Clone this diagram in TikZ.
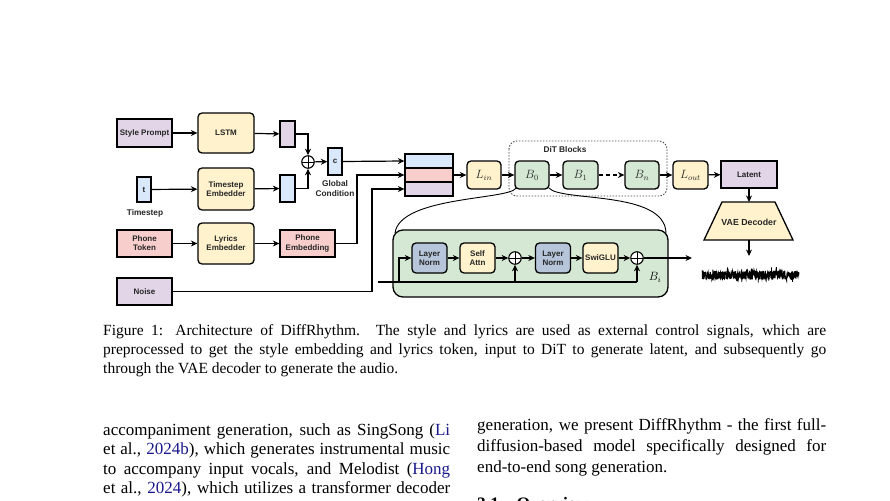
\documentclass[tikz,border=0pt]{standalone}
\usepackage{fontspec}
\setmainfont{Liberation Serif}
\setsansfont{Liberation Sans}
\usepackage{amsmath}
\usetikzlibrary{arrows.meta}

\definecolor{promptpurple}{HTML}{E1D5E7}
\definecolor{embedyellow}{HTML}{FFF2CC}
\definecolor{timeblue}{HTML}{DAE8FC}
\definecolor{lyricpink}{HTML}{F8CECC}
\definecolor{blockgreen}{HTML}{D5E8D4}
\definecolor{normblue}{HTML}{B6C5D9}
\definecolor{citeblue}{rgb}{0.1,0.1,0.55}

\begin{document}
\begin{tikzpicture}[x=1pt,y=-1pt]

	\tikzset{
		box lines/.style={draw, line width=1.3pt, inner sep=0pt, align=center, text=black!85,
			font=\sffamily\bfseries\fontsize{8}{9.2}\selectfont},
		plain box/.style={box lines},
		round box/.style={box lines, rounded corners=4pt},
		math box/.style={box lines, rounded corners=4pt, font=\fontsize{11.5}{13}\selectfont},
		flow lines/.style={line width=1.2pt, -{Stealth[length=6.5pt,width=6pt]}},
		link lines/.style={line width=1.2pt},
		sum node/.style={draw, circle, line width=1.1pt, minimum size=12.5pt, inner sep=0pt, fill=white,
			path picture={\draw[line width=1pt] (path picture bounding box.north) -- (path picture bounding box.south)
				(path picture bounding box.west) -- (path picture bounding box.east);}},
		side label/.style={font=\sffamily\bfseries\fontsize{8.3}{10}\selectfont, align=center, text=black!85},
		caption text/.style={anchor=base west, inner sep=0pt, font=\fontsize{15.5}{19}\selectfont},
		body text/.style={anchor=base west, inner sep=0pt, font=\fontsize{17}{20}\selectfont}
	}

	\fill[white] (0,0) rectangle (890,500);
	\useasboundingbox (0,0) rectangle (890,500);

	% conditions
	\node[plain box, fill=promptpurple, minimum width=55pt, minimum height=28pt] (prompt) at (144.5,133) {Style Prompt};
	\node[round box, fill=embedyellow, minimum width=56pt, minimum height=40pt] (lstm) at (226,133) {LSTM};
	\node[plain box, fill=promptpurple, minimum width=15pt, minimum height=26pt] (styleemb) at (287.5,134) {};

	\node[plain box, fill=timeblue, minimum width=14pt, minimum height=25pt] (t) at (144,189.5) {t};
	\node[side label, anchor=north] (tlabel) at (145,206) {Timestep};
	\node[round box, fill=embedyellow, minimum width=56pt, minimum height=42pt] (tembedder) at (226,189) {Timestep\\Embedder};
	\node[plain box, fill=timeblue, minimum width=15pt, minimum height=27pt] (timeemb) at (287.5,188.5) {};

	\node[sum node] (condsum) at (308,162) {};
	\node[plain box, fill=timeblue, minimum width=14pt, minimum height=27pt] (c) at (335,161.5) {c};
	\node[side label, anchor=north] (clabel) at (335,177) {Global\\Condition};

	\node[plain box, fill=lyricpink, minimum width=55pt, minimum height=27pt] (phone) at (144.5,243.5) {Phone\\Token};
	\node[round box, fill=embedyellow, minimum width=56pt, minimum height=41pt] (lembedder) at (226,243.5) {Lyrics\\Embedder};
	\node[plain box, fill=lyricpink, minimum width=55pt, minimum height=27pt] (phoneemb) at (307.5,243.5) {Phone\\Embedding};

	\node[plain box, fill=promptpurple, minimum width=55pt, minimum height=27pt] (noise) at (144.5,291.5) {Noise};

	\draw[flow lines] (prompt) -- (lstm);
	\draw[flow lines] (lstm) -- (styleemb);
	\draw[flow lines] (t) -- (tembedder);
	\draw[flow lines] (tembedder) -- (timeemb);
	\draw[flow lines] (phone) -- (lembedder);
	\draw[flow lines] (lembedder) -- (phoneemb);
	\draw[flow lines] (styleemb.east) -| (condsum.north);
	\draw[flow lines] (timeemb.east) -| (condsum.south);
	\draw[flow lines] (condsum) -- (c);

	% concatenated input
	\node[plain box, fill=timeblue, minimum width=48pt, minimum height=14pt] (row1) at (429,161) {};
	\node[plain box, fill=lyricpink, minimum width=48pt, minimum height=14pt] (row2) at (429,175) {};
	\node[plain box, fill=promptpurple, minimum width=48pt, minimum height=14pt] (row3) at (429,189) {};

	\draw[flow lines] (c.east) -- (row1.west);
	\draw[flow lines] (phoneemb.east) -- (357,243.5) |- (row2.west);
	\draw[flow lines] (noise.east) -- (372,291.5) |- (row3.west);

	% DiT
	\draw[line width=0.9pt, black!70, dash pattern=on 1.5pt off 1.5pt, rounded corners=8pt] (509,141) rectangle (667,196);
	\node[side label] (ditlabel) at (565,150) {DiT Blocks};

	\node[math box, fill=embedyellow, minimum width=34pt, minimum height=28pt] (lin) at (484,175) {$L_{in}$};
	\node[math box, fill=blockgreen, minimum width=34pt, minimum height=28pt] (b0) at (532,175) {$B_0$};
	\node[math box, fill=blockgreen, minimum width=35pt, minimum height=28pt] (b1) at (580.5,175) {$B_1$};
	\node[math box, fill=blockgreen, minimum width=34pt, minimum height=28pt] (bn) at (642,175) {$B_n$};
	\node[math box, fill=embedyellow, minimum width=35pt, minimum height=28pt] (lout) at (690.5,175) {$L_{out}$};
	\node[plain box, fill=promptpurple, minimum width=56pt, minimum height=27pt] (latent) at (749,174.5) {Latent};

	\draw[flow lines] (row2.east) -- (lin);
	\draw[flow lines] (lin) -- (b0);
	\draw[flow lines] (b0) -- (b1);
	\draw[flow lines, dash pattern=on 4pt off 3pt] (b1) -- (bn);
	\draw[flow lines] (bn) -- (lout);
	\draw[flow lines] (lout) -- (latent);

	% decoder
	\draw[line width=1.3pt, fill=embedyellow] (722,202) -- (775,202) -- (793,240) -- (704,240) -- cycle;
	\node[side label, font=\sffamily\bfseries\fontsize{8.8}{10}\selectfont] (vae) at (749,222) {VAE Decoder};
	\coordinate (vaetop) at (749,202);
	\coordinate (vaebottom) at (749,240);
	\coordinate (audio) at (749,256);
	\draw[flow lines] (latent) -- (vaetop);
	\draw[flow lines] (vaebottom) -- (audio);

	\pgfmathsetseed{17}
	\draw[line width=0.8pt] plot[domain=702:799, samples=520] (\x, {275 + (4.5 + 3.5*(rnd>0.92))*rand});

	% inside one block
	\draw[line width=0.9pt] (516,188) .. controls (510,200) and (400,196) .. (395,233);
	\draw[line width=0.9pt] (549,188) .. controls (560,202) and (665,190) .. (666,233);
	\draw[line width=1.3pt, fill=blockgreen, rounded corners=10pt] (393,230) rectangle (668,297);
	\node[font=\fontsize{11.5}{13}\selectfont] (bilabel) at (655,277) {$B_i$};

	\node[round box, fill=normblue, minimum width=35pt, minimum height=30pt] (norm1) at (429.5,258) {Layer\\Norm};
	\node[round box, fill=embedyellow, minimum width=35pt, minimum height=30pt] (attn) at (477.5,258) {Self\\Attn};
	\node[sum node] (sum1) at (515,258) {};
	\node[round box, fill=normblue, minimum width=35pt, minimum height=30pt] (norm2) at (553,258) {Layer\\Norm};
	\node[round box, fill=embedyellow, minimum width=35pt, minimum height=30pt] (swiglu) at (600.5,258) {SwiGLU};
	\node[sum node] (sum2) at (637,258) {};
	\coordinate (blockin) at (378,282);
	\coordinate (branch) at (399,282);
	\coordinate (blockout) at (692,258);

	\draw[link lines] (blockin) -- (sum2.south |- blockin);
	\draw[flow lines] (branch) |- (norm1.west);
	\draw[flow lines] (sum1.south |- blockin) -- (sum1.south);
	\draw[flow lines] (sum2.south |- blockin) -- (sum2.south);
	\draw[flow lines] (norm1) -- (attn);
	\draw[flow lines] (attn) -- (sum1);
	\draw[flow lines] (sum1) -- (norm2);
	\draw[flow lines] (norm2) -- (swiglu);
	\draw[flow lines] (swiglu) -- (sum2);
	\draw[flow lines] (sum2) -- (blockout);

	% caption and page text
	\node[caption text] (cap1) at (103,335.5) {\hbox to 723pt{Figure 1: Architecture of DiffRhythm. The style and lyrics are used as external control signals, which are}};
	\node[caption text] (cap2) at (103,354.5) {\hbox to 723pt{preprocessed to get the style embedding and lyrics token, input to DiT to generate latent, and subsequently go}};
	\node[caption text] (cap3) at (103,373.5) {through the VAE decoder to generate the audio.};

	\node[body text] (left1) at (103,435) {\hbox to 347pt{accompaniment generation, such as SingSong (\textcolor{citeblue}{Li}}};
	\node[body text] (left2) at (103,454.5) {\hbox to 347pt{et al., \textcolor{citeblue}{2024b}), which generates instrumental music}};
	\node[body text] (left3) at (103,474) {\hbox to 347pt{to accompany input vocals, and Melodist (\textcolor{citeblue}{Hong}}};
	\node[body text] (left4) at (103,493.5) {\hbox to 347pt{et al., \textcolor{citeblue}{2024}), which utilizes a transformer decoder}};

	\node[body text] (right1) at (477,430) {\hbox to 349pt{generation, we present DiffRhythm - the first full-}};
	\node[body text] (right2) at (477,451) {\hbox to 349pt{diffusion-based model specifically designed for}};
	\node[body text] (right3) at (477,472) {end-to-end song generation.};
	\node[body text, font=\bfseries\fontsize{17.5}{20}\selectfont] (heading) at (477,509) {3.1\quad Overview};

\end{tikzpicture}
\end{document}
